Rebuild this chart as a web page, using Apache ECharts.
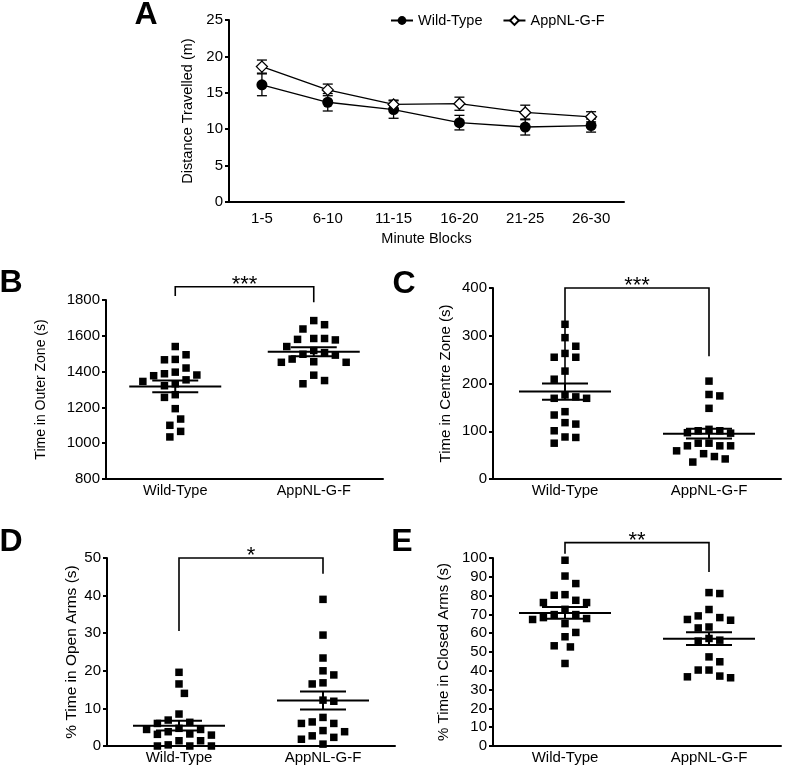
<!DOCTYPE html>
<html><head><meta charset="utf-8">
<script src="https://cdn.jsdelivr.net/npm/echarts@6/dist/echarts.min.js"></script>
<style>html,body{margin:0;padding:0;background:#fff}#c{width:786px;height:774px}</style>
</head><body><div id="c"></div>
<script>
// ---------- DATA ----------
const blocks = ['1-5','6-10','11-15','16-20','21-25','26-30'];
const distWT = [16.1, 13.7, 12.7, 10.9, 10.3, 10.5];
const distWTsem = [1.5, 1.2, 1.2, 1.0, 1.1, 0.9];
const distAPP = [18.6, 15.4, 13.4, 13.5, 12.3, 11.7];
const distAPPsem = [0.9, 0.8, 0.6, 0.9, 1.0, 0.7];

const groups = ['Wild-Type', 'AppNL-G-F'];

const outerWT = [1540, 1494, 1466, 1468, 1420, 1377, 1388, 1381, 1397, 1345, 1321, 1332, 1354, 1271, 1256, 1193, 1135, 1100, 1066, 1035];
const outerAPP = [1685, 1662, 1638, 1580, 1585, 1577, 1585, 1540, 1518, 1497, 1470, 1492, 1506, 1452, 1452, 1455, 1380, 1350, 1332];
const outerMean = [1317, 1511];
const outerSem = [33, 25];

const centreWT = [324, 296, 278, 255, 255, 263, 226, 209, 176, 169, 169, 172, 134, 141, 115, 118, 101, 88, 87, 75];
const centreAPP = [205, 174, 177, 148, 104, 101, 96, 97, 101, 75, 69.5, 69.5, 59, 69.5, 75, 47, 42, 53, 35.5];
const centreMean = [183, 95];
const centreSem = [17, 10];

const openWT = [19.6, 16.5, 14.0, 8.5, 6.3, 6.9, 6.0, 4.4, 3.8, 3.1, 4.7, 2.9, 3.2, 4.4, 1.4, 0, 0, 0, 0.3, 1.4];
const openAPP = [39.0, 29.5, 23.4, 18.9, 20.0, 16.5, 16.8, 12.2, 11.9, 7.6, 6.0, 6.0, 6.4, 4.1, 3.8, 2.3, 1.8, 2.7, 0.5];
const openMean = [5.4, 12.1];
const openSem = [1.3, 2.4];

const closedWT = [98.8, 90.4, 86.4, 80.5, 80.2, 77.5, 76.3, 76.3, 72.7, 69.9, 69.9, 67.8, 67.3, 68.3, 65.1, 60.4, 58.1, 53.3, 52.7, 43.9];
const closedAPP = [81.6, 81.1, 72.6, 69.2, 67.3, 66.9, 68.3, 63.3, 62.8, 57.2, 55.8, 56.3, 47.4, 44.8, 40.4, 40.4, 37.2, 36.3, 36.8];
const closedMean = [70.8, 57.1];
const closedSem = [3.1, 3.4];

// significance brackets: [left leg end, right leg end, top], label
const bracketB = [1822, 1787, 1874]; const starsB = '***';
const bracketC = [200, 257, 400];    const starsC = '***';
const bracketD = [30.6, 45.8, 50];   const starsD = '*';
const bracketE = [102.3, 92.6, 108.2]; const starsE = '**';

// ---------- LAYOUT ----------
const FONT = 'Liberation Sans, Arial, Helvetica, sans-serif';
const grids = [
  {left: 229, top: 20, width: 395, height: 182},   // A
  {left: 106, top: 300, width: 277, height: 179},  // B
  {left: 493, top: 288, width: 288, height: 191},  // C
  {left: 107, top: 558, width: 288, height: 188},  // D
  {left: 493, top: 558, width: 288, height: 188}   // E
];
const yCfg = [
  {min: 0, max: 25, interval: 5, name: 'Distance Travelled (m)', gap: 25, nfs: 14.5},
  {min: 800, max: 1800, interval: 200, name: 'Time in Outer Zone (s)', gap: 58, nfs: 14},
  {min: 0, max: 400, interval: 100, name: 'Time in Centre Zone (s)', gap: 40, nfs: 15},
  {min: 0, max: 50, interval: 10, name: '% Time in Open Arms (s)', gap: 27, nfs: 15.5},
  {min: 0, max: 100, interval: 10, name: '% Time in Closed Arms (s)', gap: 42, nfs: 15}
];

// beeswarm offsets (pixels) computed from values
function swarm(values, gi) {
  const g = grids[gi], c = yCfg[gi];
  const step = 5.4, D = 10.8;
  const pts = values.map((v, i) => ({v, i, y: (v - c.min) / (c.max - c.min) * g.height}));
  const order = pts.slice().sort((a, b) => b.v - a.v);
  const placed = []; const offs = new Array(values.length).fill(0);
  let flip = 1;
  for (const p of order) {
    let done = false;
    for (let k = 0; k < 80 && !done; k++) {
      const cands = k === 0 ? [0] : [flip * k * step, -flip * k * step];
      for (const dx of cands) {
        if (placed.every(q => (q.dx - dx) * (q.dx - dx) + (q.y - p.y) * (q.y - p.y) >= D * D - 1e-6)) {
          offs[p.i] = dx; placed.push({dx, y: p.y}); if (dx !== 0) flip = -flip; done = true; break;
        }
      }
    }
  }
  return offs;
}

const series = [];
const xAxes = [], yAxes = [];

xAxes.push({gridIndex: 0, type: 'category', data: blocks, boundaryGap: true,
  name: 'Minute Blocks', nameLocation: 'middle', nameGap: 29,
  nameTextStyle: {fontFamily: FONT, fontSize: 14.5, color: '#000'},
  axisLine: {lineStyle: {color: '#000', width: 2}},
  axisTick: {alignWithLabel: true, length: 5, lineStyle: {color: '#000', width: 2}},
  axisLabel: {fontFamily: FONT, fontSize: 15, color: '#000', margin: 9}});
for (let gi = 1; gi < 5; gi++) {
  xAxes.push({gridIndex: gi, type: 'category', data: groups, boundaryGap: true,
    axisLine: {lineStyle: {color: '#000', width: 2}},
    axisTick: {alignWithLabel: true, length: 5, lineStyle: {color: '#000', width: 2}},
    axisLabel: {fontFamily: FONT, fontSize: gi === 1 ? 14.5 : 15, color: '#000', margin: 4}});
}
for (let gi = 0; gi < 5; gi++) {
  const c = yCfg[gi];
  yAxes.push({gridIndex: gi, type: 'value', min: c.min, max: c.max, interval: c.interval,
    name: c.name, nameLocation: 'middle', nameGap: c.gap, nameRotate: 90,
    nameTextStyle: {fontFamily: FONT, fontSize: c.nfs, color: '#000'},
    splitLine: {show: false},
    axisLine: {show: true, lineStyle: {color: '#000', width: 2}},
    axisTick: {show: true, length: 4, lineStyle: {color: '#000', width: 2}},
    axisLabel: {fontFamily: FONT, fontSize: 15, color: '#000', margin: 6, formatter: v => String(v)}});
}

function errRender(params, api) {
  const x = api.value(0), m = api.value(1), s = api.value(2);
  const t = api.coord([x, m + s]), b = api.coord([x, m - s]);
  const st = {stroke: '#000', lineWidth: 1.3};
  return {type: 'group', children: [
    {type: 'line', shape: {x1: t[0], y1: t[1], x2: b[0], y2: b[1]}, style: st},
    {type: 'line', shape: {x1: t[0] - 5, y1: t[1], x2: t[0] + 5, y2: t[1]}, style: st},
    {type: 'line', shape: {x1: b[0] - 5, y1: b[1], x2: b[0] + 5, y2: b[1]}, style: st}
  ]};
}
series.push({type: 'custom', xAxisIndex: 0, yAxisIndex: 0, z: 1, renderItem: errRender,
  data: distWT.map((v, i) => [i, v, distWTsem[i]]), silent: true});
series.push({type: 'custom', xAxisIndex: 0, yAxisIndex: 0, z: 1, renderItem: errRender,
  data: distAPP.map((v, i) => [i, v, distAPPsem[i]]), silent: true});
series.push({name: 'Wild-Type', type: 'line', xAxisIndex: 0, yAxisIndex: 0, z: 3, data: distWT,
  symbol: 'circle', symbolSize: 11, lineStyle: {color: '#000', width: 1.3},
  itemStyle: {color: '#000'}});
series.push({name: 'AppNL-G-F', type: 'line', xAxisIndex: 0, yAxisIndex: 0, z: 3, data: distAPP,
  symbol: 'diamond', symbolSize: 11, lineStyle: {color: '#000', width: 1.3},
  itemStyle: {color: '#fff', borderColor: '#000', borderWidth: 1.3}});

function meanRender(params, api) {
  const x = api.value(0), m = api.value(1), s = api.value(2);
  const c = api.coord([x, m]), t = api.coord([x, m + s]), b = api.coord([x, m - s]);
  const st = {stroke: '#000', lineWidth: 2};
  const hw = 46, sw = 23;
  return {type: 'group', children: [
    {type: 'line', shape: {x1: c[0] - hw, y1: c[1], x2: c[0] + hw, y2: c[1]}, style: st},
    {type: 'line', shape: {x1: c[0] - sw, y1: t[1], x2: c[0] + sw, y2: t[1]}, style: st},
    {type: 'line', shape: {x1: c[0] - sw, y1: b[1], x2: c[0] + sw, y2: b[1]}, style: st},
    {type: 'line', shape: {x1: c[0], y1: t[1], x2: c[0], y2: b[1]}, style: st}
  ]};
}
function bracketRender(params, api, lbl) {
  const l = api.value(0), r = api.value(1), top = api.value(2);
  const p1 = api.coord([0, l]), p2 = api.coord([0, top]), p3 = api.coord([1, top]), p4 = api.coord([1, r]);
  return {type: 'group', children: [
    {type: 'polyline', shape: {points: [p1, p2, p3, p4]}, style: {stroke: '#000', lineWidth: 1.6, fill: null}},
    {type: 'text', x: (p2[0] + p3[0]) / 2, y: p2[1] - 2,
      style: {text: lbl, font: '22px ' + FONT, align: 'center', verticalAlign: 'middle', fill: '#000'}}
  ]};
}
const panels = [
  [outerWT, outerAPP, outerMean, outerSem, bracketB, starsB],
  [centreWT, centreAPP, centreMean, centreSem, bracketC, starsC],
  [openWT, openAPP, openMean, openSem, bracketD, starsD],
  [closedWT, closedAPP, closedMean, closedSem, bracketE, starsE]
];
panels.forEach((p, k) => {
  const gi = k + 1;
  [p[0], p[1]].forEach((vals, g) => {
    const offs = swarm(vals, gi);
    series.push({type: 'scatter', xAxisIndex: gi, yAxisIndex: gi, z: 2, clip: false, silent: true,
      symbol: 'rect', symbolSize: 7.5, itemStyle: {color: '#000', opacity: 1},
      data: vals.map((v, i) => ({value: [g, v], symbolOffset: [offs[i], 0]}))});
  });
  series.push({type: 'custom', xAxisIndex: gi, yAxisIndex: gi, z: 4, silent: true, renderItem: meanRender,
    data: p[2].map((m, g) => [g, m, p[3][g]])});
  series.push({type: 'custom', xAxisIndex: gi, yAxisIndex: gi, z: 4, silent: true, clip: false,
    renderItem: (params, api) => bracketRender(params, api, p[5]),
    data: [p[4]]});
});

const labels = [['A', 146, 15], ['B', 11, 283], ['C', 404, 284], ['D', 11, 542], ['E', 402, 542]];
const graphic = labels.map(l => ({type: 'text', x: l[1], y: l[2],
  style: {text: l[0], font: 'bold 32px ' + FONT, align: 'center', verticalAlign: 'middle', fill: '#000'}}));

const chart = echarts.init(document.getElementById('c'), null, {renderer: 'canvas'});
chart.setOption({
  animation: false,
  backgroundColor: '#fff',
  grid: grids,
  xAxis: xAxes,
  yAxis: yAxes,
  legend: {data: ['Wild-Type', 'AppNL-G-F'], left: 385, top: 8, itemWidth: 22, itemHeight: 11, itemGap: 20,
    textStyle: {fontFamily: FONT, fontSize: 14.5, color: '#000'}},
  graphic: graphic,
  series: series
});
</script></body></html>
